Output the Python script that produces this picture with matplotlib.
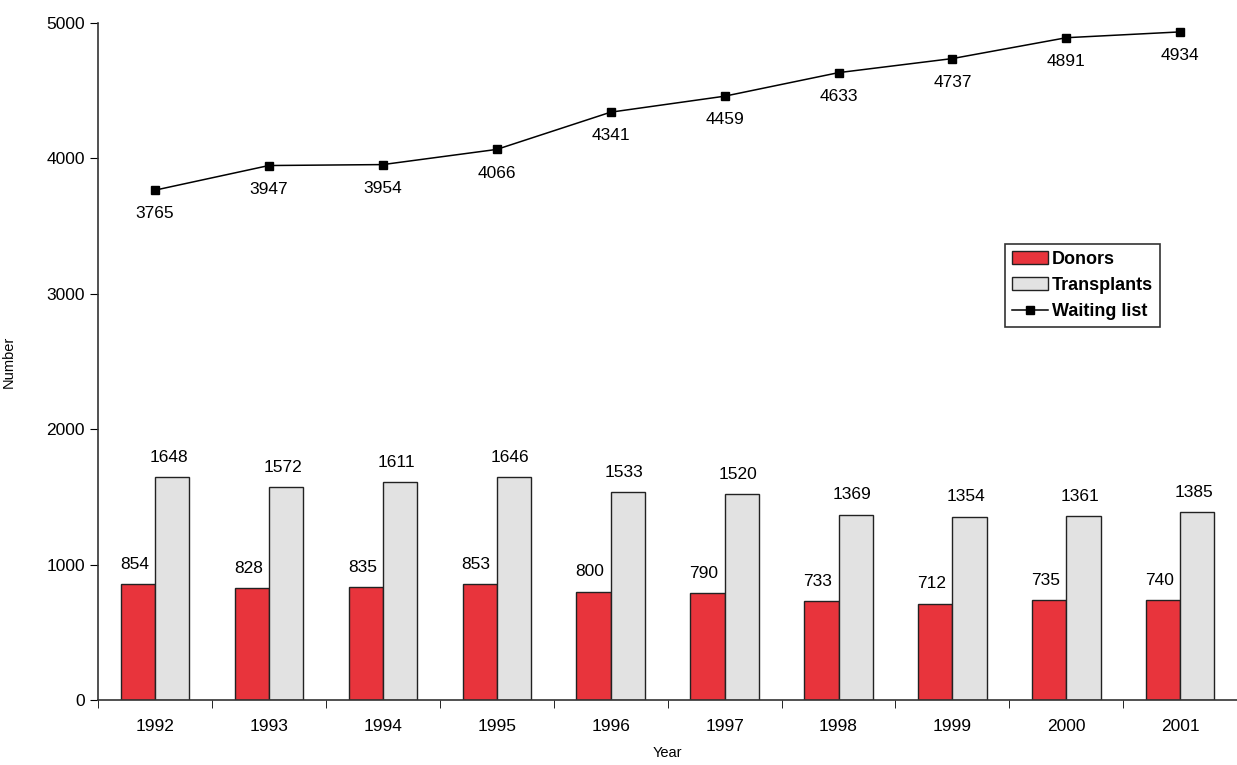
import numpy as np
import matplotlib.pyplot as plt
from matplotlib.ticker import FixedLocator, NullFormatter

plt.rcParams['font.family'] = ['Liberation Sans', 'DejaVu Sans']

years = ["1992", "1993", "1994", "1995", "1996", "1997", "1998", "1999", "2000", "2001"]
donors = [854, 828, 835, 853, 800, 790, 733, 712, 735, 740]
transplants = [1648, 1572, 1611, 1646, 1533, 1520, 1369, 1354, 1361, 1385]
waiting = [3765, 3947, 3954, 4066, 4341, 4459, 4633, 4737, 4891, 4934]

x = np.arange(len(years))
w = 0.3

fig = plt.figure(figsize=(12.37, 7.65), dpi=100)
ax = fig.add_axes([0.0792, 0.085, 0.921, 0.885])

b1 = ax.bar(x - w / 2, donors, w, color="#e8343c", edgecolor="#222222", linewidth=1.0, label="Donors")
b2 = ax.bar(x + w / 2, transplants, w, color="#e2e2e2", edgecolor="#222222", linewidth=1.0, label="Transplants")
ln, = ax.plot(x, waiting, color="black", linewidth=1.1, marker="s", markersize=6, label="Waiting list")

fs = 12.5
for i in x:
    ax.text(i - w / 2 - 0.03, donors[i] + 90, str(donors[i]), ha="center", va="bottom", fontsize=fs)
    ax.text(i + w / 2 - 0.03, transplants[i] + 90, str(transplants[i]), ha="center", va="bottom", fontsize=fs)
    ax.text(i, waiting[i] - 120, str(waiting[i]), ha="center", va="top", fontsize=fs)

ax.set_xlim(-0.5, len(years) - 0.5)
ax.set_ylim(0, 5000)
ax.set_yticks([0, 1000, 2000, 3000, 4000, 5000])
ax.tick_params(axis="y", labelsize=fs, length=6, direction="out")

# year labels at group centres, tick marks between groups
ax.set_xticks(x)
ax.set_xticklabels(years, fontsize=fs)
ax.tick_params(axis="x", which="major", length=0, pad=14)
ax.xaxis.set_minor_locator(FixedLocator(np.arange(-0.5, len(years), 1.0)))
ax.xaxis.set_minor_formatter(NullFormatter())
ax.tick_params(axis="x", which="minor", length=6, direction="out")

for s in ["top", "right"]:
    ax.spines[s].set_visible(False)
for s in ["left", "bottom"]:
    ax.spines[s].set_color("#333333")
    ax.spines[s].set_linewidth(1.2)

ax.set_ylabel("Number", fontsize=10.5, labelpad=22)
ax.set_xlabel("Year", fontsize=10.5, labelpad=8)

leg = ax.legend([b1, b2, ln], ["Donors", "Transplants", "Waiting list"],
                loc="upper left", bbox_to_anchor=(0.788, 0.687), fancybox=False, framealpha=1,
                edgecolor="#333333", prop={"weight": "bold", "size": 13}, handlelength=2.0,
                handletextpad=0.2, borderpad=0.4, labelspacing=0.5)
leg.get_frame().set_linewidth(1.2)

fig.savefig("out.png", dpi=100)
